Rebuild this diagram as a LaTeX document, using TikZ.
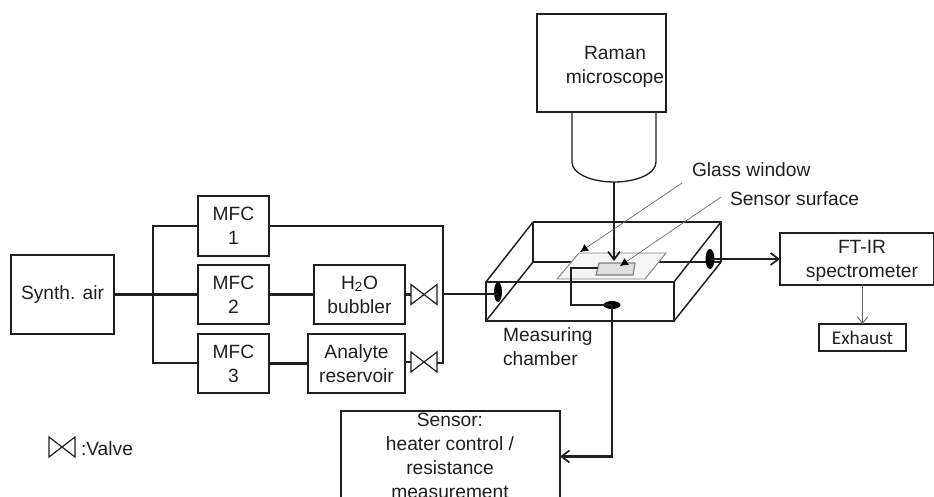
\documentclass[tikz,border=0pt]{standalone}
\usepackage{fontspec}
\setmainfont{Liberation Sans}
\newfontfamily\calib{Carlito}
\usetikzlibrary{arrows.meta,calc,shapes.geometric}
\definecolor{ink}{gray}{0.12}
\tikzset{
  x=0.75pt,y=-0.75pt,
  every node/.style={text=ink,font=\fontsize{14.4}{18}\selectfont,align=center,inner sep=0pt,outer sep=0pt},
  box/.style={draw=ink,line width=1pt},
  wire/.style={draw=ink,line width=1.6pt},
  thinwire/.style={draw=ink,line width=1.1pt},
  barb/.style={-{Straight Barb[length=6pt,width=9pt,line width=1.3pt]}},
  leader/.style={draw=black!60,line width=0.5pt,-{Latex[length=6pt,width=6pt,black]}},
  valve/.style={draw=ink,line width=0.9pt,fill=white},
  port/.style={fill=black,draw=none,shape=ellipse},
}
\newcommand{\boxat}[6]{\node[box,minimum width=#3*0.75pt,minimum height=#4*0.75pt] (#5) at (#1,#2) {#6};}
\newcommand{\valvesym}[4]{% cx cy hw hh
  \draw[valve] (#1-#3,#2-#4) -- (#1+#3,#2+#4) -- (#1+#3,#2-#4) -- (#1-#3,#2+#4) -- cycle;}
\begin{document}
\begin{tikzpicture}
\useasboundingbox (0,0) rectangle (934,496);
% boxes
\boxat{601.5}{63}{129}{98}{raman}{}
\node (ramantxt) at (615,67) {Raman\\microscope};
\boxat{62.5}{294.5}{103}{79}{synth}{Synth. air}
\boxat{233.5}{226}{71}{60}{mfca}{MFC\\1}
\boxat{233.5}{294.5}{71}{59}{mfcb}{MFC\\2}
\boxat{233.5}{363.5}{71}{59}{mfcc}{MFC\\3}
\boxat{359.5}{294.5}{91}{59}{bub}{H\textsubscript{2}O\\bubbler}
\boxat{356.5}{363.5}{97}{59}{ana}{Analyte\\reservoir}
\boxat{857}{259}{154}{52}{ftir}{}
\node (ftirtxt) at (862,261) {FT-IR\\spectrometer};
\node[box,minimum width=87*0.75pt,minimum height=27*0.75pt,font=\calib\fontsize{14.5}{16}\selectfont] (exh) at (862.5,337.5) {Exhaust};
\node[box,minimum width=219*0.75pt,minimum height=106*0.75pt,anchor=north] (sens) at (450.5,411) {};
\node[anchor=north] (senstxt) at (450,413) {Sensor:\\heater control /\\resistance\\measurement};
% objective
\coordinate (objl) at (572,112);
\coordinate (objr) at (656,112);
\coordinate (objb) at (614,182);
\draw[box] (objl) -- (572,162) .. controls (572,174) and (592,182) .. (objb) .. controls (636,182) and (656,174) .. (656,162) -- (objr);
% gas lines
\coordinate (tt) at (153,226);
\coordinate (tb) at (153,363);
\coordinate (rt) at (443,226);
\coordinate (rb) at (443,363);
\coordinate (jm) at (443,294);
\draw[wire] (mfca.west |- tt) -- (tt) -- (tb) -- (mfcc.west |- tb);
\draw[wire] (synth.east) -- (mfcb.west |- synth.east);
\draw[wire] (mfca.east |- rt) -- (rt) -- (rb) -- (437,363);
\draw[wire] (mfcb.east |- bub.west) -- (bub.west);
\draw[wire] (mfcc.east |- ana.west) -- (ana.west);
\coordinate (vah) at (424,294.5);
\coordinate (vbh) at (424,362);
\draw[wire] (bub.east) -- (vah);
\draw[wire] (ana.east |- vbh) -- (vbh);
\valvesym{424}{294.5}{13}{10}
\valvesym{424}{362}{13}{10}
% chamber
\coordinate (fa) at (486,282);
\coordinate (fb) at (674,282);
\coordinate (fc) at (674,321);
\coordinate (fd) at (486,321);
\coordinate (ba) at (533,222);
\coordinate (bb) at (721,222);
\coordinate (bc) at (721,262);
\coordinate (bd) at (533,262);
\draw[wire] (ba) -- (bb) -- (bc);
\draw[wire] (ba) -- (bd);
\draw[thinwire] (bd) -- (bc);
\draw[thinwire] (fd) -- (bd);
\draw[thinwire] (fa) -- (ba);
\draw[thinwire] (fb) -- (bb);
\draw[thinwire] (fc) -- (bc);
\draw[wire] (fa) -- (fb) -- (fc) -- (fd) -- cycle;
% glass and sensor
\draw[draw=black!50,line width=0.7pt,fill=black!4] (579,253) -- (666,253) -- (645,279) -- (557,279) -- cycle;
\draw[draw=black!50,line width=0.9pt,fill=black!13] (599,263) -- (635,263) -- (633,275) -- (596,275) -- cycle;
% ports
\node[port,minimum width=8*0.75pt,minimum height=20*0.75pt] (pl) at (498,292) {};
\node[port,minimum width=9*0.75pt,minimum height=20*0.75pt] (pr) at (710,259) {};
\node[port,minimum width=17*0.75pt,minimum height=8*0.75pt] (pb) at (612,305) {};
\draw[wire] (jm) -- (pl.center |- jm);
\draw[wire,barb] (pr.center) -- (ftir.west);
\draw[draw=black!60,line width=0.7pt,-{Straight Barb[length=5pt,width=8pt,line width=0.7pt]}] (ftir.south -| exh.north) -- (exh.north);
\coordinate (sw) at (598,268);
\draw[wire] (sw) -- (571,268) -- (571,305) -- (pb.center);
\draw[wire,barb] (pb.center) -- (612,456.5) -- (sens.east |- 612,456.5);
\draw[wire,barb] (objb) -- (614,261);
% labels
\node[anchor=west] (gw) at (692,170) {Glass window};
\node[anchor=west] (ss) at (730,199) {Sensor surface};
\coordinate (gwl) at (682,183);
\coordinate (ssl) at (721,197);
\draw[leader] (gwl) -- (580,252);
\draw[leader] (ssl) -- (620,266);
\node[align=left,anchor=north west] (mc) at (503,328) {Measuring\\chamber};
% legend
\valvesym{62}{447}{13}{10}
\node[anchor=west] (vl) at (81,449) {:Valve};
\end{tikzpicture}
\end{document}
